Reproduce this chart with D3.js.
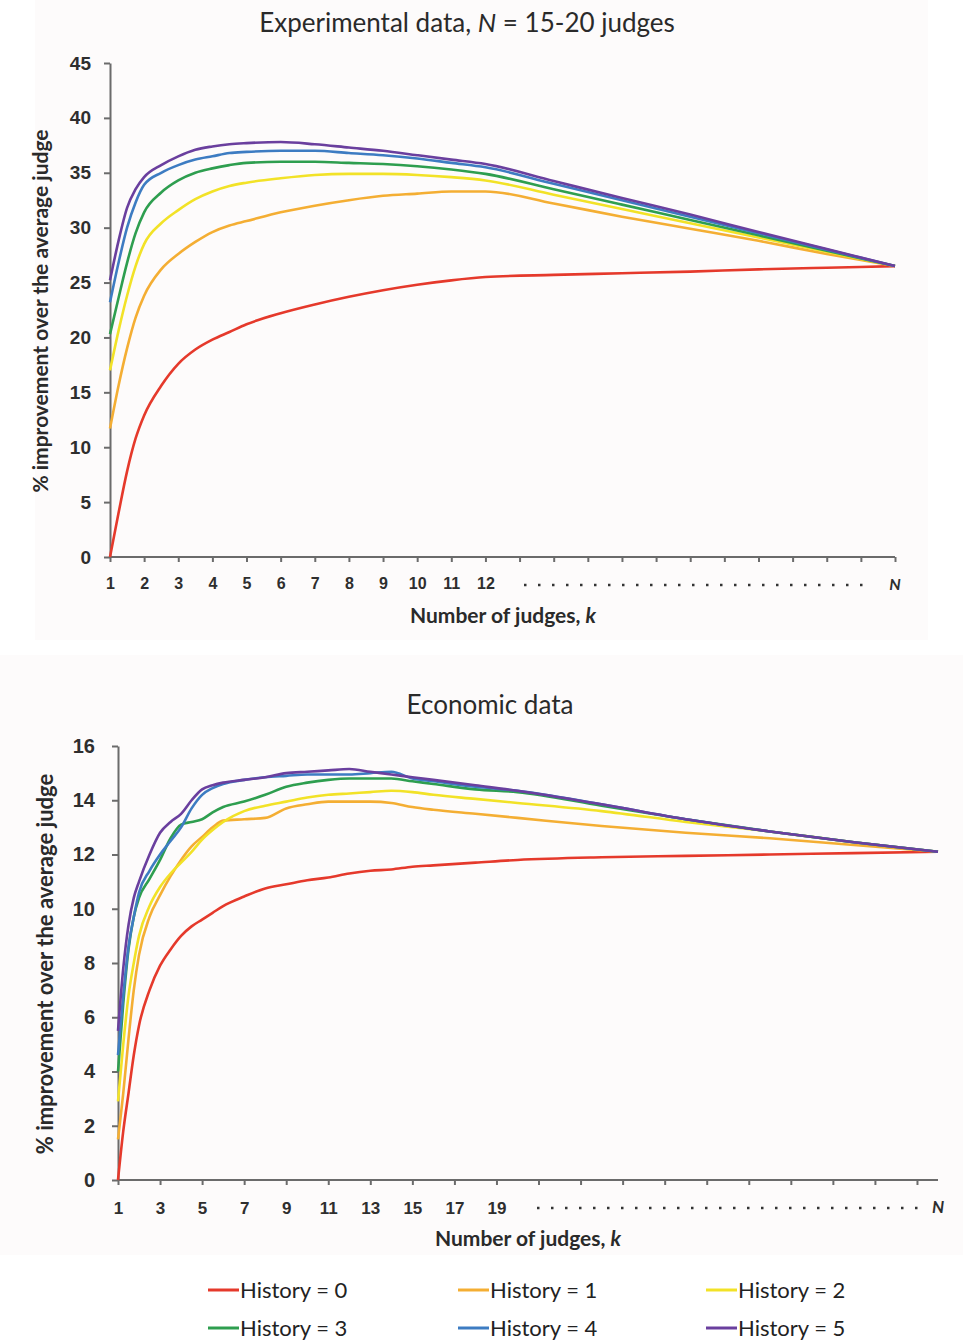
<!doctype html>
<html>
<head>
<meta charset="utf-8">
<style>
  html, body { margin: 0; padding: 0; background: #fff; }
  svg { display: block; font-family: Lato, "Open Sans", sans-serif; }
  .axis path, .axis line { stroke: #6b6b6b; }
  .axis text { fill: #2e2e2e; font-weight: bold; }
</style>
<script src="https://cdn.jsdelivr.net/npm/d3@7"></script>
</head>
<body>
<svg id="chart" width="963" height="1341"></svg>
<script>
// ---- data ----
var seriesNames = ['History = 0', 'History = 1', 'History = 2', 'History = 3', 'History = 4', 'History = 5'];
var colors = ['#e5392b', '#f4ae33', '#f2e227', '#2e9e4f', '#3d7cc2', '#6a3f9e'];

// experimental data, k positions (N is drawn at position 24)
var expK  = [1, 1.25, 1.5, 1.75, 2, 2.5, 3, 3.5, 4, 4.5, 5, 6, 7, 8, 9, 10, 11, 12, 14, 16, 18, 20, 22, 24];
var expH0 = [0, 4.0, 7.8, 10.8, 12.9, 15.6, 17.6, 18.9, 19.8, 20.5, 21.2, 22.2, 23.0, 23.7, 24.3, 24.8, 25.2, 25.5, 25.7, 25.85, 26.0, 26.2, 26.35, 26.5];
var expH1 = [11.7, 15.6, 19.0, 21.8, 23.8, 26.2, 27.6, 28.7, 29.6, 30.2, 30.6, 31.4, 32.0, 32.5, 32.9, 33.1, 33.3, 33.3, 32.2, 31.0, 29.9, 28.8, 27.6, 26.5];
var expH2 = [17.0, 20.6, 23.8, 26.5, 28.5, 30.4, 31.6, 32.6, 33.3, 33.8, 34.1, 34.5, 34.8, 34.9, 34.9, 34.8, 34.6, 34.3, 33.0, 31.7, 30.4, 29.1, 27.8, 26.5];
var expH3 = [20.3, 23.6, 26.8, 29.5, 31.4, 33.2, 34.3, 35.0, 35.4, 35.7, 35.9, 36.0, 36.0, 35.9, 35.8, 35.6, 35.3, 34.9, 33.5, 32.1, 30.7, 29.3, 27.9, 26.5];
var expH4 = [23.2, 26.8, 30.0, 32.3, 33.9, 35.0, 35.7, 36.2, 36.5, 36.8, 36.9, 37.0, 37.0, 36.8, 36.6, 36.3, 35.9, 35.5, 34.0, 32.5, 31.0, 29.5, 28.0, 26.5];
var expH5 = [25.2, 28.8, 31.8, 33.5, 34.6, 35.7, 36.5, 37.1, 37.4, 37.6, 37.7, 37.8, 37.6, 37.3, 37.0, 36.6, 36.2, 35.8, 34.25, 32.7, 31.2, 29.6, 28.05, 26.5];

// economic data, k positions (N is drawn at position 40)
var ecoK  = [1, 1.25, 1.5, 1.75, 2, 2.5, 3, 3.5, 4, 4.5, 5, 5.5, 6, 7, 8, 9, 10, 11, 12, 13, 14, 15, 16, 18, 20, 24, 28, 32, 36, 40];
var ecoH0 = [0, 1.8, 3.2, 4.6, 5.7, 7.0, 7.9, 8.5, 9.0, 9.35, 9.6, 9.85, 10.1, 10.45, 10.75, 10.9, 11.05, 11.15, 11.3, 11.4, 11.45, 11.55, 11.6, 11.7, 11.8, 11.9, 11.95, 12.0, 12.05, 12.1];
var ecoH1 = [1.5, 3.2, 5.2, 7.0, 8.3, 9.7, 10.5, 11.2, 11.8, 12.3, 12.65, 13.0, 13.25, 13.3, 13.35, 13.7, 13.85, 13.95, 13.95, 13.95, 13.9, 13.75, 13.65, 13.5, 13.35, 13.05, 12.8, 12.6, 12.35, 12.1];
var ecoH2 = [2.9, 5.0, 6.8, 8.0, 9.0, 10.1, 10.8, 11.3, 11.7, 12.1, 12.55, 12.9, 13.2, 13.6, 13.8, 13.95, 14.1, 14.2, 14.25, 14.3, 14.35, 14.3, 14.2, 14.05, 13.9, 13.6, 13.2, 12.85, 12.45, 12.1];
var ecoH3 = [4.0, 6.5, 8.5, 9.7, 10.4, 11.1, 11.8, 12.6, 13.1, 13.2, 13.3, 13.55, 13.75, 13.95, 14.2, 14.5, 14.65, 14.75, 14.8, 14.8, 14.8, 14.7, 14.6, 14.4, 14.3, 13.8, 13.3, 12.85, 12.45, 12.1];
var ecoH4 = [4.6, 6.8, 8.6, 9.7, 10.6, 11.4, 12.0, 12.5, 13.0, 13.7, 14.2, 14.45, 14.6, 14.75, 14.85, 14.9, 14.95, 14.95, 14.95, 15.0, 15.05, 14.8, 14.7, 14.5, 14.35, 13.85, 13.3, 12.85, 12.45, 12.1];
var ecoH5 = [5.5, 7.8, 9.4, 10.4, 11.0, 12.0, 12.8, 13.2, 13.5, 14.0, 14.4, 14.55, 14.65, 14.75, 14.85, 15.0, 15.05, 15.1, 15.15, 15.05, 14.95, 14.85, 14.75, 14.55, 14.35, 13.85, 13.3, 12.85, 12.45, 12.1];

// axis ticks and labels (the N label is drawn separately)
var expXTicks = d3.range(1, 25);
var expXLabels = {1: '1', 2: '2', 3: '3', 4: '4', 5: '5', 6: '6', 7: '7', 8: '8', 9: '9', 10: '10', 11: '11', 12: '12'};
var expYTicks = [0, 5, 10, 15, 20, 25, 30, 35, 40, 45];
var ecoXTicks = d3.range(1, 40, 2);
var ecoXLabels = {1: '1', 3: '3', 5: '5', 7: '7', 9: '9', 11: '11', 13: '13', 15: '15', 17: '17', 19: '19'};
var ecoYTicks = [0, 2, 4, 6, 8, 10, 12, 14, 16];

var svg = d3.select('#chart');

function drawPanel(p) {
  var g = svg.append('g');

  g.append('rect')
      .attr('x', p.bg[0]).attr('y', p.bg[1])
      .attr('width', p.bg[2]).attr('height', p.bg[3])
      .attr('fill', '#fdfbfb');

  var x = d3.scaleLinear().domain(p.xDomain).range([p.left, p.right]);
  var y = d3.scaleLinear().domain(p.yDomain).range([p.bottom, p.top]);

  // y axis
  var yAxis = g.append('g')
      .attr('class', 'axis')
      .attr('transform', 'translate(' + p.left + ',0)')
      .call(d3.axisLeft(y).tickValues(p.yTicks).tickSize(6).tickSizeOuter(0).tickPadding(p.yPad));
  yAxis.selectAll('path, line').attr('stroke-width', 2);
  yAxis.selectAll('text').attr('font-size', p.yFont);

  // x axis
  var xAxis = g.append('g')
      .attr('class', 'axis')
      .attr('transform', 'translate(0,' + p.bottom + ')')
      .call(d3.axisBottom(x).tickValues(p.xTicks).tickSize(5).tickSizeOuter(0).tickPadding(p.xPad)
        .tickFormat(function(d) { return p.xLabels[d] || ''; }));
  xAxis.select('path.domain').attr('d', 'M' + p.left + ',0H' + p.right);
  xAxis.selectAll('path, line').attr('stroke-width', 2);
  xAxis.selectAll('text').attr('font-size', p.xFont);

  // N label at the far end
  g.append('text')
      .attr('x', x(p.xDomain[1]))
      .attr('y', p.bottom + 33)
      .attr('text-anchor', 'middle')
      .attr('font-size', p.xFont)
      .attr('font-weight', 'bold')
      .attr('font-style', 'italic')
      .attr('fill', '#2e2e2e')
      .text('N');

  // dotted leader between last numeric label and N
  g.append('line')
      .attr('x1', p.dots[0]).attr('x2', p.dots[1])
      .attr('y1', p.bottom + 28).attr('y2', p.bottom + 28)
      .attr('stroke', '#333')
      .attr('stroke-width', 2.5)
      .attr('stroke-dasharray', '2.5 11.5');

  // titles
  var title = g.append('text')
      .attr('x', p.titleX).attr('y', p.titleY)
      .attr('text-anchor', 'middle')
      .attr('font-size', 26)
      .attr('fill', '#2a2a2a');
  p.title.forEach(function(t) {
    title.append('tspan').attr('font-style', t[1] ? 'italic' : 'normal').text(t[0]);
  });

  var xt = g.append('text')
      .attr('x', p.xTitleX).attr('y', p.bottom + 66)
      .attr('text-anchor', 'middle')
      .attr('font-size', 21)
      .attr('font-weight', 'bold')
      .attr('fill', '#2a2a2a');
  xt.append('tspan').text('Number of judges, ');
  xt.append('tspan').attr('font-style', 'italic').text('k');

  g.append('text')
      .attr('transform', 'translate(' + p.yTitleX + ',' + p.yTitleY + ') rotate(-90)')
      .attr('text-anchor', 'middle')
      .attr('font-size', p.yTitleFont)
      .attr('font-weight', 'bold')
      .attr('fill', '#2a2a2a')
      .text('% improvement over the average judge');

  // lines
  var line = d3.line()
      .x(function(d) { return x(d[0]); })
      .y(function(d) { return y(d[1]); })
      .curve(d3.curveMonotoneX);

  p.series.forEach(function(s, i) {
    g.append('path')
        .datum(p.k.map(function(k, j) { return [k, s[j]]; }))
        .attr('fill', 'none')
        .attr('stroke', colors[i])
        .attr('stroke-width', 2.6)
        .attr('stroke-linejoin', 'round')
        .attr('d', line);
  });
}

drawPanel({
  bg: [35, 0, 893, 640],
  left: 110, right: 895, top: 63, bottom: 557,
  xDomain: [1, 24], yDomain: [0, 45],
  xTicks: expXTicks, xLabels: expXLabels, yTicks: expYTicks,
  yPad: 13, yFont: 19, xFont: 16, xPad: 16,
  dots: [524, 868],
  title: [['Experimental data, ', false], ['N', true], [' = 15-20 judges', false]],
  titleX: 467, titleY: 32,
  xTitleX: 503,
  yTitleX: 48, yTitleY: 311, yTitleFont: 21,
  k: expK,
  series: [expH0, expH1, expH2, expH3, expH4, expH5]
});

drawPanel({
  bg: [0, 655, 963, 600],
  left: 118, right: 938, top: 746, bottom: 1180,
  xDomain: [1, 40], yDomain: [0, 16],
  xTicks: ecoXTicks, xLabels: ecoXLabels, yTicks: ecoYTicks,
  yPad: 17, yFont: 20, xFont: 17, xPad: 17,
  dots: [537, 918],
  title: [['Economic data', false]],
  titleX: 490, titleY: 714,
  xTitleX: 528,
  yTitleX: 53, yTitleY: 964, yTitleFont: 22,
  k: ecoK,
  series: [ecoH0, ecoH1, ecoH2, ecoH3, ecoH4, ecoH5]
});

// legend, 3 columns x 2 rows
var legendX = [208, 458, 706];
var legendY = [1290, 1328];
var legend = svg.append('g');
seriesNames.forEach(function(name, i) {
  var lx = legendX[i % 3], ly = legendY[Math.floor(i / 3)];
  legend.append('line')
      .attr('x1', lx).attr('x2', lx + 31)
      .attr('y1', ly).attr('y2', ly)
      .attr('stroke', colors[i])
      .attr('stroke-width', 3);
  legend.append('text')
      .attr('x', lx + 32).attr('y', ly + 8)
      .attr('font-size', 22)
      .attr('fill', '#222')
      .text(name);
});
</script>
</body>
</html>
